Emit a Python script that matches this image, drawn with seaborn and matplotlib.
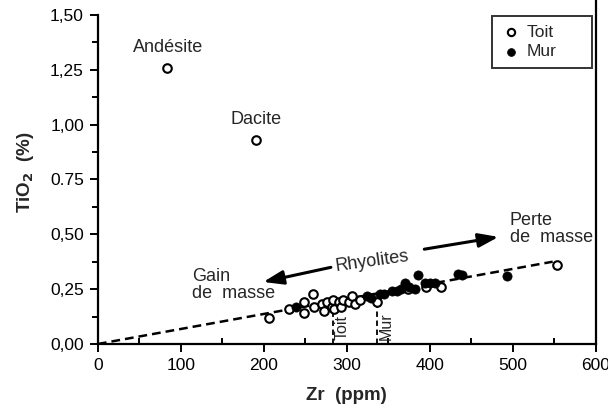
import numpy as np
import pandas as pd
import matplotlib.pyplot as plt
import seaborn as sns
from matplotlib.ticker import MultipleLocator

# Toit (open circles)
toit_zr = [83, 190, 206, 230, 248, 259, 248, 261, 270, 272, 276, 282, 283, 284,
           291, 293, 295, 302, 306, 310, 316, 336, 374, 395, 414, 553]
toit_tio2 = [1.26, 0.93, 0.12, 0.16, 0.19, 0.23, 0.14, 0.17, 0.18, 0.15, 0.19, 0.17, 0.20, 0.16,
             0.19, 0.17, 0.20, 0.19, 0.22, 0.18, 0.20, 0.19, 0.25, 0.26, 0.26, 0.36]

# Mur (filled circles)
mur_zr = [239, 324, 329, 340, 345, 354, 360, 365, 370, 375, 382, 386, 394,
          400, 406, 434, 439, 493]
mur_tio2 = [0.17, 0.22, 0.21, 0.23, 0.23, 0.24, 0.24, 0.25, 0.28, 0.26, 0.25, 0.315, 0.28,
            0.28, 0.28, 0.32, 0.315, 0.31]

# dashed trend line
fit_zr = [0, 548]
fit_tio2 = [0, 0.375]

# vertical markers (Toit / Mur averages)
mean_zr = [283, 336]
mean_tio2 = [0.19, 0.19]
mean_names = ["Toit", "Mur"]

yticks = [0, 0.25, 0.5, 0.75, 1.0, 1.25, 1.5]
ytick_labels = ["0,00", "0,25", "0,50", "0.75", "1,00", "1,25", "1,50"]


def main():
    sns.set_theme(style="ticks")
    plt.rcParams['font.family'] = ['Liberation Sans', 'DejaVu Sans']

    fig = plt.figure(figsize=(6.08, 4.09), dpi=100)
    ax = fig.add_axes([0.161, 0.159, 0.819, 0.841])

    sns.lineplot(x=fit_zr, y=fit_tio2, ax=ax, color="black", linewidth=1.8,
                 linestyle=(0, (3.5, 2)), zorder=1)

    for xv, yv, name in zip(mean_zr, mean_tio2, mean_names):
        ax.plot([xv, xv], [0, yv], color="black", linewidth=1.3,
                linestyle=(0, (3, 2)), zorder=1)
        ax.text(xv + 2, 0.02, name, rotation=90, ha="left", va="bottom",
                fontsize=11.5)

    toit = pd.DataFrame({"Zr": toit_zr, "TiO2": toit_tio2})
    mur = pd.DataFrame({"Zr": mur_zr, "TiO2": mur_tio2})
    sns.scatterplot(data=toit, x="Zr", y="TiO2", ax=ax, marker="o", s=38,
                    facecolor="white", edgecolor="black", linewidth=1.5,
                    label="Toit", zorder=3)
    sns.scatterplot(data=mur, x="Zr", y="TiO2", ax=ax, marker="o", s=44,
                    color="black", edgecolor="black", linewidth=0.5,
                    label="Mur", zorder=3)

    # annotations
    fs = 13
    ax.text(85, 1.315, "Andésite", ha="center", va="bottom", fontsize=fs)
    ax.text(190, 0.985, "Dacite", ha="center", va="bottom", fontsize=fs)
    ax.text(114, 0.27, "Gain\nde  masse", ha="left", va="center", fontsize=fs,
            linespacing=1.0)
    ax.text(496, 0.525, "Perte\nde  masse", ha="left", va="center", fontsize=fs,
            linespacing=1.0)
    ax.text(330, 0.378, "Rhyolites", ha="center", va="center", fontsize=fs,
            rotation=8)
    arrow = dict(arrowstyle="-|>,head_length=1.0,head_width=0.35",
                 color="black", lw=2.2)
    ax.annotate("", xy=(196, 0.28), xytext=(284, 0.352), arrowprops=arrow)
    ax.annotate("", xy=(486, 0.49), xytext=(390, 0.43), arrowprops=arrow)

    ax.set_xlim(0, 600)
    ax.set_ylim(0, 1.568)
    ax.xaxis.set_major_locator(MultipleLocator(100))
    ax.xaxis.set_minor_locator(MultipleLocator(50))
    ax.set_yticks(yticks)
    ax.set_yticklabels(ytick_labels)
    ax.yaxis.set_minor_locator(MultipleLocator(0.125))
    ax.tick_params(axis="both", which="major", labelsize=12.5, length=6, width=1.4,
                   color="black", labelcolor="black", pad=4)
    ax.tick_params(axis="both", which="minor", length=4, width=1.4, color="black")
    ax.tick_params(axis="x", which="minor", direction="in")

    for side in ["left", "bottom", "right"]:
        ax.spines[side].set_linewidth(1.6)
        ax.spines[side].set_color("black")
    ax.spines["top"].set_visible(False)
    ax.spines["left"].set_bounds(0, 1.5)

    ax.set_xlabel("Zr  (ppm)", fontsize=13.5, fontweight="bold", labelpad=10)
    ax.set_ylabel("TiO$_\\mathbf{2}$  (%)", fontsize=13.5, fontweight="bold", labelpad=10)

    leg = ax.legend(loc="lower left", mode="expand",
                    bbox_to_anchor=(492 / 608, 1 - 68 / 409, 100 / 608, 56 / 409),
                    bbox_transform=fig.transFigure, frameon=True,
                    fancybox=False, edgecolor="black", fontsize=12.5,
                    handletextpad=0.3, borderpad=0.5, labelspacing=0.25,
                    handlelength=1.2, borderaxespad=0, markerscale=0.85)
    leg.get_frame().set_linewidth(1.4)

    plt.savefig("out.png", dpi=100)
    plt.close()


if __name__ == "__main__":
    main()
